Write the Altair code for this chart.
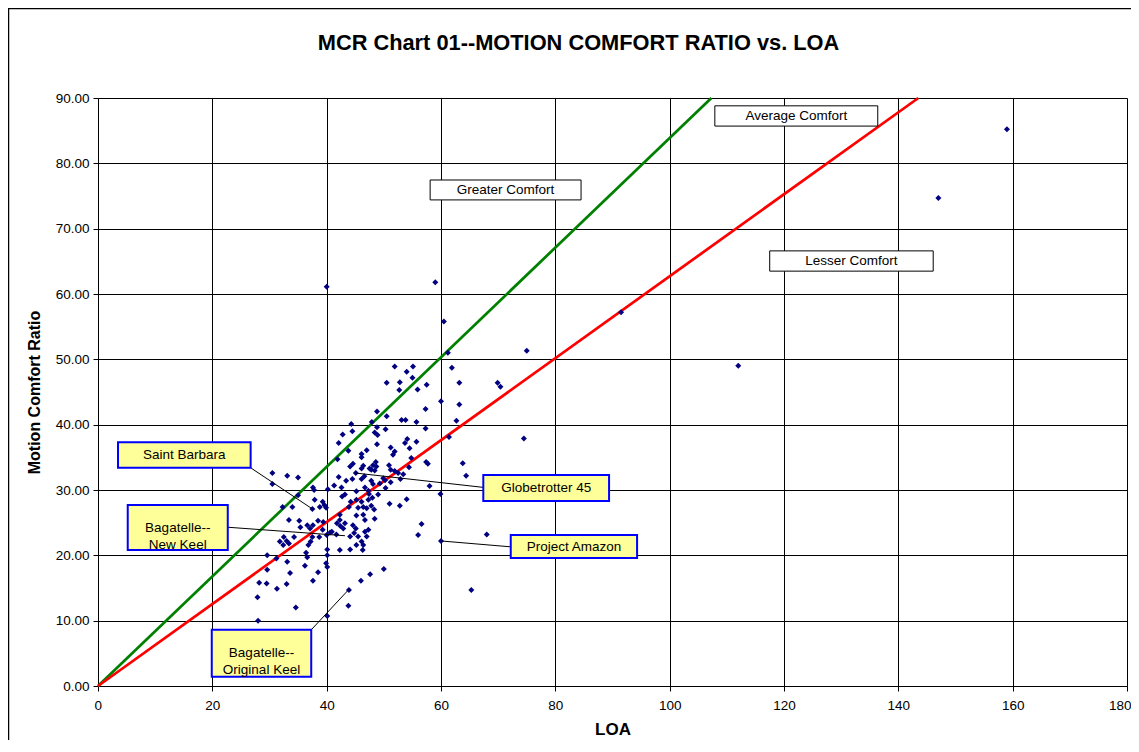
import altair as alt
import pandas as pd

# ---- scatter data (LOA, Motion Comfort Ratio) ----
loa = [159.0, 147.0, 112.0, 91.5, 59.0, 40.0, 60.5, 61.2, 75.0, 69.9, 70.4, 74.5, 68.0, 65.3, 60.0, 50.0,
       51.9, 55.1, 61.9, 54.0, 55.0, 50.5, 52.8, 52.7, 55.9, 57.5, 63.2, 60.0, 63.2, 57.3, 48.8,
       50.5, 53.1, 53.8, 55.7, 47.9, 62.7, 48.8, 50.3, 57.3, 48.4, 48.9, 61.4, 54.1, 53.7, 54.5, 55.7, 48.8,
       51.2, 47.0, 51.9, 51.6, 46.1, 46.1, 54.8, 57.4, 57.7, 48.6, 48.1, 48.7, 47.8, 47.5, 48.4, 46.4, 46.1,
       50.9, 51.2, 54.4, 51.9, 52.5, 53.4, 52.9, 51.2, 63.8, 64.4, 58.0, 59.9, 49.9, 49.3, 50.3, 50.2, 47.8,
       48.1, 46.1, 46.7, 47.3, 47.4, 49.0, 48.0, 51.0, 52.8, 54.0, 46.1, 46.4, 47.0, 47.8, 48.3, 48.4, 56.6,
       47.3, 46.7, 56.0, 46.1, 46.4, 46.3, 47.6, 46.0,
       44.3, 42.8, 44.5, 42.1, 43.8, 41.9, 44.6, 44.1, 45.1, 30.5, 33.1, 35.0, 42.1, 43.4, 30.5, 37.6, 37.8,
       40.2, 41.3, 42.6, 42.7, 43.2, 45.2, 35.0, 37.9, 39.3, 39.6, 38.8, 39.9, 37.5, 32.3, 34.0, 43.9, 45.5,
       44.2, 45.2, 47.3, 33.4, 35.2, 38.5, 37.6, 36.6, 35.4, 37.1, 39.4, 39.3, 40.6, 42.3, 42.3, 43.2, 42.4,
       42.9, 41.8, 44.6, 45.1, 44.8, 46.4, 46.7, 32.5, 34.3, 38.7, 40.0,
       45.2, 44.1, 40.9, 41.7, 44.5, 46.6,
       31.8, 33.0, 33.4, 32.4, 37.5, 37.2, 36.8, 40.1, 42.3, 44.1, 45.2, 47.0, 45.5, 36.4, 36.6, 29.6, 31.2,
       40.1, 33.1, 36.2, 39.9, 40.1, 29.6, 33.6, 38.5, 37.6, 28.2, 29.5, 33.0, 31.3, 43.9, 27.9, 34.6, 43.8,
       28.0, 40.1]
mcr = [85.2, 74.7, 49.0, 57.2, 61.8, 61.1, 55.8, 51.0, 51.3, 46.4, 45.8, 37.9, 23.2, 14.7, 22.2, 17.9,
       48.9, 48.9, 48.7, 48.1, 47.2, 46.4, 46.5, 45.3, 45.4, 46.1, 46.4, 43.6, 43.1, 42.4, 42.0,
       41.3, 40.7, 40.7, 40.4, 40.4, 40.6, 39.6, 39.3, 39.4, 38.8, 38.4, 38.1, 37.8, 37.2, 36.4, 37.4, 37.0,
       36.5, 36.1, 35.9, 35.4, 35.5, 35.0, 34.9, 34.3, 34.0, 34.3, 33.8, 33.6, 33.1, 33.3, 33.0, 33.7, 33.3,
       33.8, 33.1, 33.5, 32.9, 32.6, 32.4, 31.7, 31.2, 34.1, 32.2, 30.6, 29.4, 31.8, 31.0, 30.3, 31.5, 31.4,
       30.9, 31.7, 30.4, 29.9, 29.4, 29.3, 28.8, 27.9, 27.6, 28.6, 28.2, 27.4, 27.2, 27.6, 27.0, 25.6, 24.8,
       23.9, 23.6, 23.1, 22.1, 21.6, 20.8, 17.1, 16.1,
       40.1, 38.5, 39.0, 37.2, 36.0, 34.7, 34.0, 33.6, 32.6, 32.6, 32.2, 31.9, 32.0, 31.4, 30.9, 30.4, 30.0,
       30.1, 30.7, 30.4, 29.0, 29.3, 29.8, 29.2, 28.5, 28.2, 27.7, 27.4, 27.3, 27.1, 27.4, 27.4, 27.4, 27.3,
       28.2, 28.5, 28.5, 25.4, 25.3, 25.3, 24.6, 24.6, 24.3, 24.1, 25.1, 23.9, 23.5, 26.2, 25.4, 24.9, 24.5,
       24.1, 24.9, 24.6, 24.1, 23.4, 26.2, 25.4, 22.8, 22.8, 22.8, 23.1,
       26.1, 22.9, 23.6, 23.2, 31.7, 32.1,
       22.1, 22.2, 21.8, 21.6, 22.8, 22.1, 21.6, 20.9, 20.8, 20.9, 21.6, 22.9, 22.9, 20.4, 19.7, 20.0, 19.5,
       20.0, 19.0, 18.4, 18.8, 18.2, 17.8, 17.3, 17.4, 16.1, 15.8, 15.7, 15.6, 14.9, 14.7, 13.6, 12.0, 12.3,
       10.0, 10.7]

# ---- reference lines ----
green_loa = [0, 107.3]
green_mcr = [0, 90]
red_loa = [0, 143.5]
red_mcr = [0, 90]

# ---- region labels (white boxes) ----
region_text = ["Greater Comfort", "Average Comfort", "Lesser Comfort"]
region_x1 = [58.1, 107.9, 117.5]
region_x2 = [84.5, 136.4, 146.1]
region_y1 = [74.4, 85.7, 63.5]
region_y2 = [77.45, 88.8, 66.6]

# ---- boat labels (yellow boxes) ----
boat_text = ["Saint Barbara", "Globetrotter 45", "Bagatelle--\nNew Keel", "Project Amazon", "Bagatelle--\nOriginal Keel"]
boat_x1 = [3.5, 67.4, 5.2, 72.2, 19.9]
boat_x2 = [26.7, 89.4, 22.7, 94.3, 37.3]
boat_y1 = [33.4, 28.3, 20.8, 19.6, 1.4]
boat_y2 = [37.3, 32.3, 27.7, 23.1, 8.6]
lead_x1 = [26.7, 67.4, 22.7, 72.2, 37.3]
lead_y1 = [33.4, 30.4, 24.3, 21.3, 8.6]
lead_x2 = [37.5, 45.0, 43.2, 60.0, 43.9]
lead_y2 = [27.1, 32.6, 23.0, 22.2, 14.8]

W, H = 1029, 588
FONT = "Liberation Sans"

pts = pd.DataFrame({"LOA": loa, "MCR": mcr})
lines = pd.DataFrame({
    "LOA": green_loa + red_loa,
    "MCR": green_mcr + red_mcr,
    "series": ["green"] * 2 + ["red"] * 2,
})
regions = pd.DataFrame({"t": region_text, "x1": region_x1, "x2": region_x2, "y1": region_y1, "y2": region_y2})
regions["xc"] = (regions.x1 + regions.x2) / 2
regions["yc"] = (regions.y1 + regions.y2) / 2
boats = pd.DataFrame({"t": boat_text, "x1": boat_x1, "x2": boat_x2, "y1": boat_y1, "y2": boat_y2,
                      "lx1": lead_x1, "ly1": lead_y1, "lx2": lead_x2, "ly2": lead_y2})
boats["xc"] = (boats.x1 + boats.x2) / 2
boats["yc"] = (boats.y1 + boats.y2) / 2

xs = alt.Scale(domain=[0, 180], nice=False, zero=True)
ys = alt.Scale(domain=[0, 90], nice=False)

xaxis = alt.Axis(values=list(range(0, 181, 20)), format="d", title="LOA", labelFontSize=13.5,
                 titleFontSize=17, titleFontWeight="bold", labelFont=FONT, titleFont=FONT,
                 grid=True, gridColor="#000", gridOpacity=1, domainColor="#000", tickColor="#000",
                 tickSize=5, labelPadding=7, titlePadding=10, labelColor="#000", titleColor="#000",
                 labelFlush=True, labelFlushOffset=4)
yaxis = alt.Axis(values=list(range(0, 91, 10)), format=".2f", title="Motion Comfort Ratio", labelFontSize=13.5,
                 titleFontSize=16, titleFontWeight="bold", labelFont=FONT, titleFont=FONT,
                 grid=True, gridColor="#000", gridOpacity=1, domainColor="#000", tickColor="#000",
                 tickSize=5, labelPadding=4, titlePadding=13, labelColor="#000", titleColor="#000",
                 labelFlush=False)

frame = alt.Chart(pd.DataFrame({"a": [0]})).mark_rect(fill=None, stroke="#000", strokeWidth=1.5).encode(
    x=alt.value(-89.5), x2=alt.value(W + 60), y=alt.value(-89.5), y2=alt.value(H + 100))

scatter = alt.Chart(pts).mark_point(shape="diamond", filled=True, size=36, color="#000080", opacity=1).encode(
    x=alt.X("LOA:Q", scale=xs, axis=xaxis),
    y=alt.Y("MCR:Q", scale=ys, axis=yaxis),
)

line_layer = alt.Chart(lines).mark_line(strokeWidth=2.75).encode(
    x=alt.X("LOA:Q", scale=xs),
    y=alt.Y("MCR:Q", scale=ys),
    detail="series:N",
    color=alt.Color("series:N", scale=alt.Scale(domain=["green", "red"], range=["#008000", "#FF0000"]), legend=None),
)

reg_box = alt.Chart(regions).mark_rect(fill="white", stroke="#000", strokeWidth=1).encode(
    x=alt.X("x1:Q", scale=xs), x2="x2:Q", y=alt.Y("y1:Q", scale=ys), y2="y2:Q")
reg_txt = alt.Chart(regions).mark_text(font=FONT, fontSize=13.5, color="#000", baseline="middle").encode(
    x=alt.X("xc:Q", scale=xs), y=alt.Y("yc:Q", scale=ys), text="t:N")

leaders = alt.Chart(boats).mark_rule(color="#000", strokeWidth=1).encode(
    x=alt.X("lx1:Q", scale=xs), y=alt.Y("ly1:Q", scale=ys), x2="lx2:Q", y2="ly2:Q")
boat_box = alt.Chart(boats).mark_rect(fill="#FFFF99", stroke="#0000FF", strokeWidth=2).encode(
    x=alt.X("x1:Q", scale=xs), x2="x2:Q", y=alt.Y("y1:Q", scale=ys), y2="y2:Q")
boat_txt = alt.Chart(boats).mark_text(font=FONT, fontSize=13.5, color="#000", baseline="middle",
                                      lineBreak="\n", lineHeight=17).encode(
    x=alt.X("xc:Q", scale=xs), y=alt.Y("yc:Q", scale=ys), text="t:N")

chart = alt.layer(frame, line_layer, scatter, leaders, reg_box, reg_txt, boat_box, boat_txt).properties(
    width=W, height=H,
    title=alt.TitleParams("MCR Chart 01--MOTION COMFORT RATIO vs. LOA", font=FONT, fontSize=21.8,
                          fontWeight="bold", anchor="middle", dx=-34, offset=-64,
                          baseline="alphabetic", color="#000"),
    autosize=alt.AutoSizeParams(type="none"),
    padding={"left": 90, "top": 90, "right": 4, "bottom": 54},
).configure_view(stroke="#000").configure(background="white")

chart.save("out.html", embed_options={"renderer": "svg", "actions": False})
